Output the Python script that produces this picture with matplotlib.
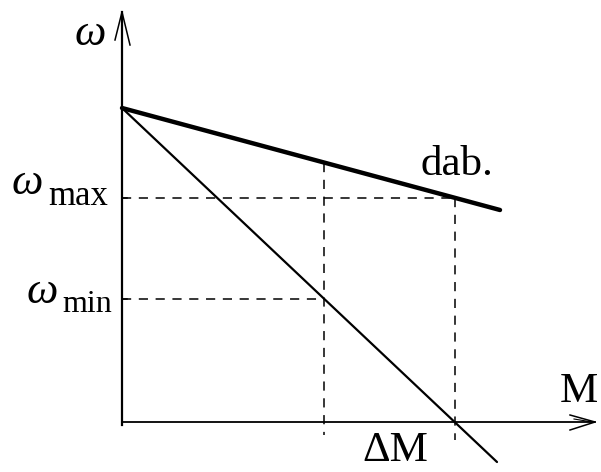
# Механическая характеристика: естественная (dab.) и искусственная прямые
import matplotlib.pyplot as plt

# данные (условные единицы)
omega0 = 314                  # скорость идеального холостого хода
M_dab = [0, 378]              # естественная характеристика "dab."
omega_dab = [314, 212]
M_art = [0, 375]              # искусственная характеристика
omega_art = [314, -40]
omega_max = 224
omega_min = 123
M_1 = 202                     # момент при omega_min
M_2 = 333                     # момент при omega_max (ΔM)

plt.rcParams['font.family'] = ['Liberation Serif', 'DejaVu Serif']

fig = plt.figure(figsize=(6.01, 4.72), dpi=100)
ax = fig.add_axes([0, 0, 1, 1])
ax.set_xlim(-122, 479)
ax.set_ylim(-50, 422)
ax.axis('off')

# оси
ax.plot([0, 0], [-3, 410], color='black', lw=1.6)
ax.plot([0, 473], [0, 0], color='black', lw=1.3)
ax.plot([-7, 0, 8], [382, 410, 377], color='black', lw=1.1)
ax.plot([448, 473, 448], [7, 0, -8], color='black', lw=1.1)
ax.plot([452, 470], [3, 0], color='black', lw=0.8)

# характеристики
ax.plot(M_dab, omega_dab, color='black', lw=3.2, solid_capstyle='round')
ax.plot(M_art, omega_art, color='black', lw=1.6, solid_capstyle='round')

# вспомогательные пунктиры
dash = dict(color='black', lw=1.1, dashes=(6, 5))
ax.plot([0, M_2], [omega_max, omega_max], **dash)
ax.plot([0, M_1], [omega_min, omega_min], **dash)
k = (omega_dab[1] - omega_dab[0]) / (M_dab[1] - M_dab[0])
ax.plot([M_1, M_1], [omega0 + k * M_1, -13], **dash)
ax.plot([M_2, M_2], [omega_max, -18], **dash)
ax.plot([0, 5], [omega_max, omega_max], color='black', lw=1.1)
ax.plot([0, 5], [omega_min, omega_min], color='black', lw=1.1)

# подписи
fs = 31
w = dict(fontsize=32, style='italic', ha='left', va='baseline')
ax.text(-47, 377, 'ω', **w)
ax.text(-110, 228, 'ω', **w)
ax.text(-74, 217, 'max', fontsize=25, ha='left', va='baseline')
ax.text(-95, 119, 'ω', **w)
ax.text(-60, 110, 'min', fontsize=23, ha='left', va='baseline')
ax.text(298, 247, 'dab.', fontsize=fs, ha='left', va='baseline')
ax.text(438, 20, 'M', fontsize=fs, ha='left', va='baseline')
ax.text(240, -39, 'ΔM', fontsize=fs, ha='left', va='baseline')

fig.savefig('out.png', dpi=100)
